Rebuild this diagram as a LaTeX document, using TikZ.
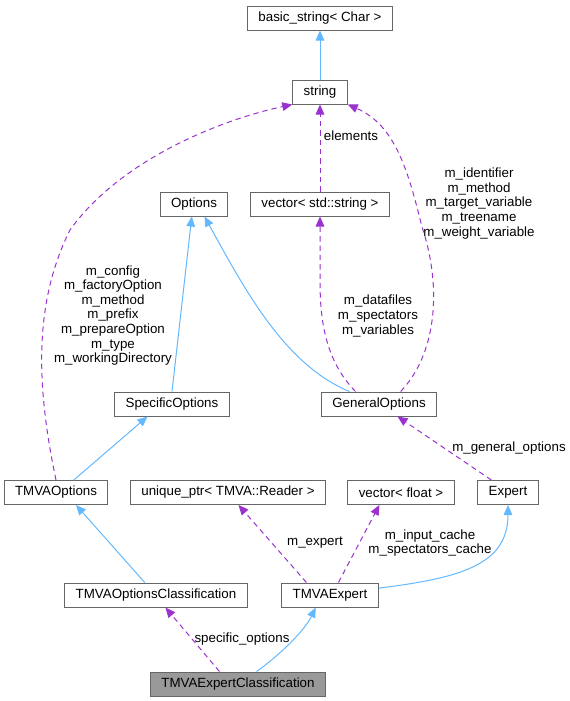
\documentclass[tikz,border=0pt]{standalone}
\usepackage{fontspec}
\setmainfont{Liberation Sans}
\usetikzlibrary{arrows.meta}
\definecolor{inhblue}{HTML}{63B8FF}
\definecolor{usepurple}{HTML}{9A32CD}
\definecolor{boxgray}{HTML}{666666}
\definecolor{curgray}{HTML}{999999}
\begin{document}
\begin{tikzpicture}[x=0.75pt,y=-0.75pt,
  cls/.style={draw=boxgray,line width=0.75pt,fill=white,minimum height=18pt,inner xsep=8.2pt,inner ysep=0pt,font=\fontsize{10}{11}\selectfont},
  lbl/.style={align=center,inner sep=0pt,font=\fontsize{10}{10.9}\selectfont},
  inherit/.style={draw=inhblue,line width=0.75pt,-{Triangle[length=7.5pt,width=6.5pt]}},
  usage/.style={draw=usepurple,line width=0.75pt,dash pattern=on 4pt off 3pt,-{Triangle[length=7.5pt,width=6.5pt]}}]
\useasboundingbox (0,0) rectangle (570,701);
% classes
\node[cls] (bs) at (320,18) {basic\_string< Char >};
\node[cls] (str) at (320,92) {string};
\node[cls] (opt) at (194,204) {Options};
\node[cls] (vstr) at (320,204) {vector< std::string >};
\node[cls] (spec) at (172,404) {SpecificOptions};
\node[cls] (gen) at (379,404) {GeneralOptions};
\node[cls] (tmo) at (56,492.5) {TMVAOptions};
\node[cls] (uptr) at (228,492.5) {unique\_ptr< TMVA::Reader >};
\node[cls] (vflt) at (401,492.5) {vector< float >};
\node[cls] (exp) at (508,492.5) {Expert};
\node[cls] (tmoc) at (156,595) {TMVAOptionsClassification};
\node[cls] (tme) at (330,595) {TMVAExpert};
\node[cls,fill=curgray] (tmec) at (238,684) {TMVAExpertClassification};
% inheritance
\draw[inherit] (str.north) -- (bs.south);
\draw[inherit] (spec.north) -- (opt.-100);
\draw[inherit] (gen.157) .. controls (285,365) and (245,290) .. (opt.-50);
\draw[inherit] (tmo.35) -- (spec.-153);
\draw[inherit] (tmoc.132) -- (tmo.-32);
\draw[inherit] (tme.8) .. controls (460,578) and (508,565) .. (exp.south);
\draw[inherit] (tmec.34) .. controls (280,655) and (305,630) .. (tme.-139);
% members
\draw[usage] (vstr.north) -- (str.south);
\node[lbl] (lelem) at (351,136) {elements};
\draw[usage] (tmo.north) .. controls (35,380) and (35,300) .. (70,230) .. controls (120,160) and (220,120) .. (str.south west);
\node[lbl] (lcfg) at (113,315.5) {m\_config\\m\_factoryOption\\m\_method\\m\_prefix\\m\_prepareOption\\m\_type\\m\_workingDirectory};
\draw[usage] (gen.30) .. controls (440,350) and (440,280) .. (422,227) .. controls (408,170) and (395,125) .. (str.south east);
\node[lbl] (lident) at (479,203.5) {m\_identifier\\m\_method\\m\_target\_variable\\m\_treename\\m\_weight\_variable};
\draw[usage] (gen.152) .. controls (325,360) and (320,320) .. (320,280) -- (vstr.south);
\node[lbl] (lfiles) at (378,316) {m\_datafiles\\m\_spectators\\m\_variables};
\draw[usage] (exp.143) -- (gen.-34);
\node[lbl] (lgen) at (509,448) {m\_general\_options};
\draw[usage] (tme.152) -- (uptr.-50);
\node[lbl] (lexp) at (315,543) {m\_expert};
\draw[usage] (tme.56) -- (vflt.-150);
\node[lbl] (lcache) at (430,543) {m\_input\_cache\\m\_spectators\_cache};
\draw[usage] (tmec.146) -- (tmoc.-53);
\node[lbl] (lspec) at (242,639) {specific\_options};
\end{tikzpicture}
\end{document}
